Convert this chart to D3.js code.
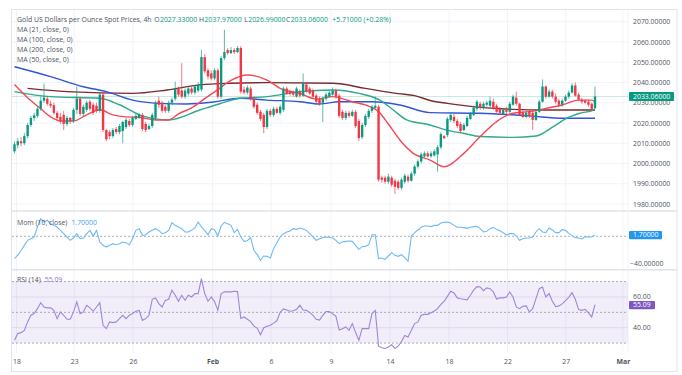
<!DOCTYPE html>
<html><head><meta charset="utf-8">
<script src="https://cdn.jsdelivr.net/npm/d3@7/dist/d3.min.js"></script>
<style>body{margin:0;background:#fff}svg{display:block;font-family:'Open Sans',sans-serif}</style>
</head><body><svg id="c" width="682" height="375"></svg>
<script>
// ---------------- DATA ----------------
const tickLabels = ["18","23","26","Feb","6","9","14","18","22","27","Mar"];
const tickBars   = [0.6,18.2,36.1,60.4,78.2,96.5,114.5,132.5,150.3,168.1,185.5];
const priceTicks = [1980,1990,2000,2010,2020,2030,2040,2050,2060,2070];

const open = [2006,2009,2011,2010,2013.5,2019,2022.5,2023.5,2027,2031,
2032,2029.5,2028.8,2025,2023,2024,2019.5,2022.5,2021,2026.5,
2032,2024.5,2026.5,2030.5,2029,2028.5,2026,2034,2016.5,2015.5,
2013.5,2017,2015.5,2016,2018,2021,2019,2022,2022.5,2024,
2019.5,2017,2018.5,2022.5,2031,2030,2028,2026,2030,2032,
2037,2036,2033,2034.5,2037,2035,2036,2036.5,2052.5,2046,
2044.5,2042,2046,2033,2052,2056,2054.5,2056,2055,2057,
2036.5,2035,2037,2032,2029,2025.5,2024,2018,2026,2024,
2027,2025,2026.5,2037,2035.5,2035,2033,2035.5,2033.5,2039,
2037,2036,2033.5,2032,2030,2032,2033,2034,2036,2033.5,
2025.5,2022.5,2025,2023.5,2025.5,2021,2013,2019,2023,2026,
2027.5,2028,1993,1993,1991,1993,1991.5,1991,1988,1991,
1993.5,1991.5,1995,1998.5,2001,2003.5,2005,2003.5,2004,2004.5,
2008,2013.5,2014,2021.5,2023,2021,2019.5,2016.5,2018.5,2022,
2024,2027,2029.5,2027.5,2029,2028.5,2030.5,2028.5,2027,2024.5,
2027,2025.5,2029,2032.5,2029.5,2025,2023,2025.5,2025,2021.5,
2025.5,2030.5,2038,2033,2035.5,2033,2031,2029,2031,2033,
2035,2038.5,2034,2031.5,2031,2030.5,2029.5,2027.33];
const high = [2011,2012.5,2013,2015,2020,2023.5,2025,2028,2033,2039.5,
2033,2031,2030,2026,2025,2026,2023.5,2023,2027.5,2038,
2033,2029,2031,2031.5,2030,2030,2034.8,2035,2017,2016.5,
2017.5,2018,2019.5,2021,2022.5,2022,2023.5,2024.5,2025,2025,
2020.5,2019.5,2025,2031,2033,2031,2029,2031,2032.5,2040.4,
2038,2049.5,2037,2038,2038,2039,2040,2056,2054,2047,
2046,2047,2047,2053,2066,2057,2057.5,2057,2058,2058,
2038,2038.5,2038,2033,2030,2026.5,2025,2027,2027,2028,
2028,2029,2038,2038,2036.5,2036,2038,2036.5,2044.5,2040,
2038,2037,2034.5,2033,2033,2035,2036,2037.5,2037,2034.5,
2026.5,2026,2026,2026.5,2026.5,2022,2020,2024.5,2027,2029,
2033,2029,1994,1994,1995,1994,1992.5,1992,1993,1995,
1994.5,1996,1999.5,2002,2005.5,2006,2006,2006,2007,2009,
2015.5,2014,2023,2025,2024.5,2022,2020.5,2020,2023.5,2025.5,
2028.5,2031.5,2030.5,2030.5,2031,2033,2032,2029.5,2028,2027.5,
2028,2030.5,2034,2035.5,2030,2026,2026,2026.5,2026,2026.5,
2031.5,2041.5,2038.5,2036.5,2036.5,2034.6,2032,2032,2034,2036,
2039.5,2040,2035,2032.5,2031.5,2031.5,2030,2037.97];
const low = [2005,2007.5,2008.5,2009,2012.5,2018,2021,2022.5,2026,2030,
2028.5,2027.5,2024,2021.5,2019.5,2016.5,2018.5,2019.5,2020,2024.5,
2023.5,2023,2025.5,2026,2024,2025,2025,2015.5,2011,2012,
2012.5,2014.5,2014.5,2010,2017,2018,2018,2021.5,2022,2016,
2015.5,2016.5,2017.5,2021.5,2027.5,2025,2025,2025,2029,2031,
2033,2032,2032,2033.5,2034,2034,2035,2035.5,2044.5,2041.5,
2041,2041,2032,2032,2051,2053.5,2054,2054,2054.5,2034.5,
2034,2034,2031,2027,2024,2021,2015,2017,2023,2023,
2024.5,2024,2025.5,2034,2033.5,2033,2032.5,2032.5,2033,2035,
2034,2032,2029.5,2028.5,2020.5,2031,2032.5,2033.5,2032,2022.5,
2021.5,2021.5,2022.5,2023,2017.5,2011,2012,2018,2022,2025,
2027,1991,1990.5,1990,1990,1988.5,1985,1987,1987,1990,
1990.5,1991,1994,1997.5,2000,2003,2003,2003,2003.5,1996,
2007,2012,2013,2020.5,2020,2017.5,2015,2016,2018,2021.5,
2023.5,2026,2026.5,2026.5,2028,2027.5,2026.5,2025,2024,2024,
2024.5,2025,2028.5,2028.5,2023.5,2022.5,2022.5,2022.5,2016.5,2021,
2025,2030,2032,2032.5,2032,2029.5,2028,2028,2030.5,2032,
2034.5,2033,2031,2029.5,2029.5,2028,2025.8,2026.99];
const close = [2009.5,2011,2010,2013.5,2019,2022.5,2023.8,2027,2031,2032.5,
2029.5,2028.5,2025,2022.5,2021,2019.5,2022.5,2021,2026.5,2032,
2024.5,2028,2030,2027,2025,2026,2034,2016.5,2012,2013.5,
2016.5,2015.5,2018.5,2020.5,2021.5,2019,2022.5,2023.5,2024,2017,
2016.5,2018.5,2024,2030,2029,2026,2026,2030,2031.5,2037,
2034,2033,2036,2037,2035,2038,2039,2052.5,2045.5,2043,
2042,2046,2033,2052,2055,2054.5,2056,2055,2057,2035.5,
2035,2037.5,2032,2028,2025,2022,2018,2026,2024,2027,
2025,2028,2037,2034.5,2034.5,2034,2037,2033.5,2039.5,2035.5,
2034.5,2033,2030.5,2029.5,2032,2034,2035,2036,2033,2023.5,
2022.5,2025,2023.5,2025.5,2018.5,2012.5,2019,2023.5,2026,2028,
2028.5,1992,1992,1991,1993.5,1989.5,1988.5,1988,1992,1994,
1991.5,1995,1998.5,2001,2004.5,2005,2003.5,2005,2006,2008,
2014.5,2012.5,2022,2024,2021,2018.5,2016,2019,2022.5,2024.5,
2027.5,2030.5,2027.5,2029.5,2030,2031,2027,2025.5,2025,2026.5,
2025.5,2029.5,2033,2029.5,2024,2023,2025,2023.5,2021.5,2025.5,
2030.5,2038,2033,2035.5,2033,2030.5,2029,2031,2033,2035,
2038.5,2033.5,2031.5,2030.5,2030,2029,2026.8,2033.06];

// moving averages: [bar, value]
const ma21 = [[0,2039],[4,2032.5],[8,2027],[11,2023],[14,2021],[18,2021],[22,2024],[26,2026.5],[30,2024],[34,2023],[38,2022.8],[43,2021.5],[47,2021.5],[50,2024.5],[54,2027.5],[58,2032],[62,2036.5],[66,2041],[71,2043.7],[77,2041.2],[81,2037.1],[87,2034.6],[92,2031.8],[97,2033],[103,2030.5],[107,2028.9],[111,2025.6],[114,2019.5],[117.5,2011.6],[121.6,2005],[126.7,2001.7],[131,1998.4],[137,2005],[142,2013.3],[147,2020.7],[152,2024.8],[157,2025.6],[162,2027.2],[167,2028.9],[172,2031.3],[176,2031.3],[177,2030.5]];
const ma50 = [[0,2035.5],[11,2033],[26,2032.2],[32,2029],[39,2023.5],[47,2021.5],[56.5,2026.4],[62.6,2029.5],[68.7,2032.2],[77,2033],[87,2035.5],[97,2036.3],[105,2034.6],[111.4,2031.3],[115.5,2026.4],[119.6,2021.5],[126.7,2019],[131.8,2016.5],[136.8,2014.9],[142,2013.3],[152,2012.9],[159,2013.6],[164.3,2018.2],[168.3,2022.3],[172.4,2024.8],[176.5,2026.4],[177,2027]];
const ma100 = [[0,2047.8],[11,2042.9],[21,2037.9],[28,2035.5],[36,2031.3],[44,2029.7],[52.5,2029.4],[60,2030.2],[68.7,2032.2],[76.9,2031.3],[87,2030.5],[93,2029.4],[99,2030.5],[109,2030.5],[117.5,2028.9],[126.7,2025.1],[142,2024.8],[157,2023.5],[167.3,2022.3],[177,2022.3]];
const ma200 = [[4,2037.1],[16,2035.5],[36,2034.6],[46.5,2036.3],[56.5,2038.8],[65.7,2039.6],[77,2039.9],[97,2039.6],[107,2037.1],[111,2036],[117,2034.5],[122,2033.5],[127,2031],[132,2029.7],[142,2027.7],[152,2026.7],[162,2026.4],[177,2026.4]];

const mom = [-33,-28,-21,-13.4,-6,-3.5,-1,13.8,26,21,
23.7,18.7,16.2,13.8,8.8,3.9,-1,-6,-2.5,3.9,
-3.5,-2.5,3.9,8.8,0.4,8.8,-8.4,-13.4,-15.9,-13.4,
-10.9,-12.4,-10.9,-8.4,-9.4,-12.4,-3.5,8.8,11.3,1.5,
2.4,6.4,8.8,11.3,8.8,3.9,5.4,8.8,20.2,16.2,
13.8,11.3,6.4,6.4,8.8,12.3,21.2,13.8,8.8,2.4,
11.3,9.8,0.4,15.3,20.7,18.7,16.2,5.4,10.3,-1,
-7.5,-6.5,-2,-20.8,-27.2,-35.6,-29.2,-29.7,-32.1,-18.3,
-9.4,-1,3.9,6.4,7.9,11.3,10.3,12.3,10.8,8.8,
3.9,-1,-6,-3.5,-2,-1,-1.5,-2.5,-6,-10.9,
-8.4,-7.5,-7,-7.5,-13.4,-19.3,-15.4,-14.9,-12.4,2.4,
2.4,-33.1,-32.1,-34.1,-29.2,-24.2,-28.2,-29.7,-27.2,-31.7,
-37.1,0.4,5.4,9.3,13.3,15.3,15.3,14.3,16.2,16.2,
19.7,20.7,21.2,19.7,16.2,13.3,13.3,12.8,11.8,13.3,
14.3,14.8,11.3,6.4,7.4,11.3,13.3,10.3,8.3,5.4,
1.9,3.9,3.9,0.4,-6,-3.5,-2.5,-2.5,-1,6.4,
11.3,6.4,5.4,12.3,9.3,5.4,5.4,9.8,8.8,4.4,
1,-2,-2.5,-4,-0.5,-1,-1,1.7];
const rsi = [31.8,36.2,36.8,38.3,43.8,48.1,49.2,52.4,56.3,53.5,
52.9,53,51.3,45.9,50.3,48.1,45.5,45.5,50.3,56.8,
49.2,50.3,54.6,52.9,50.7,53.5,56.3,41.6,39.4,43.8,
43.3,43.8,45.9,48.1,45.9,48.1,49.2,50.7,51.3,44.8,
45.9,48.1,58.5,59.4,55.7,53.5,57.8,58.5,64.4,61.1,
57.2,61.1,57.8,61.1,60,62.2,62.2,71.9,62.2,57.2,
60,57,51.3,62,63.3,63.3,63.3,63.7,63.5,46,
47,45.5,44,41,39.8,35.5,40,41,41.6,43,
44.5,50,52.2,51.5,50.7,51,52,54.6,51.5,51.3,
50,48.1,45.5,45,48,50.5,50.5,49,47.5,38.5,
39.4,40.5,38.3,42.7,37,31.8,39.4,39.4,39.4,49.2,
51.3,28,27,26.5,27.5,29,26.5,28,31,35,
34,38.3,42.7,43.8,48.1,48.7,48.7,49.8,50.9,52.4,
55.2,57.2,60.4,63.7,62.6,59.4,58.9,58.5,58.1,61.1,
64.4,66.7,66.5,64.1,65.9,65.4,63.3,58.7,59.4,59.4,
60,63.3,60,53.5,52.4,54,54.2,50.3,52.4,58.9,
65.4,66.5,60,62.2,57.2,53.7,54.2,55.5,57.6,59.8,
62.8,58.5,51.8,51.3,52,49.6,47,55.09];

const titleText = "Gold US Dollars per Ounce Spot Prices, 4h";
const ohlcLabels = ["O","H","L","C"];
const ohlcValues = ["2027.33000","2037.97000","2026.99000","2033.06000"];
const changeText = "+5.71000 (+0.28%)";
const maLegend = ["MA (21, close, 0)","MA (100, close, 0)","MA (200, close, 0)","MA (50, close, 0)"];
const lastPrice = 2033.06, lastMom = 1.70, lastRsi = 55.09;

// ---------------- LAYOUT ----------------
const svg = d3.select('#c');
const PL = 12, PR = 628;
const green = '#089981', red = '#f23645';
const x = d3.scaleLinear().domain([0,177]).range([14.5,595]);
const yP = d3.scaleLinear().domain([1980,2070]).range([204,21.7]);
const yM = d3.scaleLinear().domain([-40,0]).range([263.3,236.3]);
const yR = d3.scaleLinear().domain([30,70]).range([343.1,281.6]);
const panels = {main:[10,210], mom:[212,268.5], rsi:[271,353]};

const defs = svg.append('defs');
Object.entries(panels).forEach(([k,[a,b]])=>{
  defs.append('clipPath').attr('id','clip-'+k).append('rect')
    .attr('x',PL).attr('y',a).attr('width',PR-PL).attr('height',b-a);
});

// frame
svg.append('rect').attr('x',11.5).attr('y',9.5).attr('width',665.5).attr('height',362)
  .attr('fill','#fff').attr('stroke','#e0e3eb');

// vertical grid
svg.append('g').selectAll('line').data(tickBars).join('line')
  .attr('x1',d=>x(d)).attr('x2',d=>x(d)).attr('y1',10).attr('y2',353)
  .attr('stroke','#f0f3fa').attr('stroke-width',1);
// horizontal grid main
svg.append('g').selectAll('line').data(priceTicks).join('line')
  .attr('x1',PL).attr('x2',PR).attr('y1',d=>yP(d)).attr('y2',d=>yP(d))
  .attr('stroke','#f0f3fa');
// rsi grid
svg.append('g').selectAll('line').data([40,60]).join('line')
  .attr('x1',PL).attr('x2',PR).attr('y1',d=>yR(d)).attr('y2',d=>yR(d)).attr('stroke','#ebe6f5');

// panel separators
[211, 269.8].forEach(y=>svg.append('line').attr('x1',11.5).attr('x2',677).attr('y1',y).attr('y2',y)
  .attr('stroke','#e0e3eb').attr('stroke-width',1.6));
svg.append('line').attr('x1',PR).attr('x2',PR).attr('y1',10).attr('y2',353).attr('stroke','#f0f3fa');

// ---------------- MAIN PANEL ----------------
const gMain = svg.append('g').attr('clip-path','url(#clip-main)');
gMain.append('line').attr('x1',PL).attr('x2',PR).attr('y1',yP(lastPrice)).attr('y2',yP(lastPrice))
  .attr('stroke',green).attr('stroke-opacity',0.22).attr('stroke-width',1);

const idx = d3.range(close.length);
const maLine = d3.line().x(d=>x(d[0])).y(d=>yP(d[1])).curve(d3.curveMonotoneX);
[[ma200,'#7b2b2f'],[ma100,'#3154d6'],[ma50,'#2eaa8c'],[ma21,'#f24a55']].forEach(([d,c])=>{
  gMain.append('path').attr('d',maLine(d)).attr('fill','none').attr('stroke',c).attr('stroke-width',1.4);
});

const cg = gMain.append('g');
cg.selectAll('line').data(idx).join('line')
  .attr('x1',i=>x(i)).attr('x2',i=>x(i)).attr('y1',i=>yP(high[i])).attr('y2',i=>yP(low[i]))
  .attr('stroke',i=>close[i]>=open[i]?green:red).attr('stroke-width',0.9).attr('stroke-opacity',0.75);
cg.selectAll('rect').data(idx).join('rect')
  .attr('x',i=>x(i)-1.2).attr('width',2.4)
  .attr('y',i=>yP(Math.max(open[i],close[i])))
  .attr('height',i=>Math.max(0.8,Math.abs(yP(open[i])-yP(close[i]))))
  .attr('fill',i=>close[i]>=open[i]?green:red);

// ---------------- MOMENTUM ----------------
const gMom = svg.append('g').attr('clip-path','url(#clip-mom)');
gMom.append('line').attr('x1',PL).attr('x2',PR).attr('y1',yM(0)).attr('y2',yM(0))
  .attr('stroke','#9598a1').attr('stroke-dasharray','2,2').attr('stroke-width',0.8);
gMom.append('path').datum(mom)
  .attr('d',d3.line().x((d,i)=>x(i)).y(d=>yM(d)))
  .attr('fill','none').attr('stroke','#6cbaf6').attr('stroke-width',1.1);

// ---------------- RSI ----------------
const gR = svg.append('g').attr('clip-path','url(#clip-rsi)');
gR.append('rect').attr('x',PL).attr('width',PR-PL).attr('y',yR(70)).attr('height',yR(30)-yR(70))
  .attr('fill','#7e57c2').attr('fill-opacity',0.1);
[70,50,30].forEach(v=>gR.append('line').attr('x1',PL).attr('x2',PR).attr('y1',yR(v)).attr('y2',yR(v))
  .attr('stroke','#9598a1').attr('stroke-dasharray','2,2').attr('stroke-width',0.8));
gR.append('path').datum(rsi)
  .attr('d',d3.line().x((d,i)=>x(i)).y(d=>yR(d)))
  .attr('fill','none').attr('stroke','#a085da').attr('stroke-width',1.1);

// ---------------- AXES ----------------
const fs = 6.9, txt = '#50535e';
const axP = d3.axisRight(yP).tickValues(priceTicks).tickFormat(d=>d3.format('.5f')(d)).tickSize(0).tickPadding(0);
const gax = svg.append('g').attr('transform','translate(633,0)').call(axP);
gax.select('.domain').remove();
gax.selectAll('text').attr('font-size',fs).attr('fill',txt).attr('font-family','Open Sans');

const axM = d3.axisRight(yM).tickValues([-40]).tickFormat(d=>d3.format('.5f')(d).replace('-','\u2212')).tickSize(0).tickPadding(0);
const gam = svg.append('g').attr('transform','translate(630,0)').call(axM);
gam.select('.domain').remove();
gam.selectAll('text').attr('font-size',fs).attr('fill',txt).attr('font-family','Open Sans');

const axR = d3.axisRight(yR).tickValues([40,60]).tickFormat(d3.format('.2f')).tickSize(0).tickPadding(0);
const gar = svg.append('g').attr('transform','translate(633,0)').call(axR);
gar.select('.domain').remove();
gar.selectAll('text').attr('font-size',fs).attr('fill',txt).attr('font-family','Open Sans').attr('dy','0.2em');

const axX = d3.axisBottom(x).tickValues(tickBars).tickFormat((d,i)=>tickLabels[i]).tickSize(0).tickPadding(0);
const gxx = svg.append('g').attr('transform','translate(0,359)').call(axX);
gxx.select('.domain').remove();
gxx.selectAll('text').attr('font-size',fs).attr('fill',txt).attr('font-family','Open Sans')
  .attr('font-weight',(d,i)=>isNaN(+tickLabels[i])?700:400);

// value tags
function tag(y,w,h,fill,label){
  svg.append('rect').attr('x',629).attr('y',y-h/2).attr('width',w).attr('height',h).attr('rx',1).attr('fill',fill);
  svg.append('text').attr('x',633).attr('y',y).attr('dy','0.34em').attr('font-size',fs)
    .attr('fill','#fff').text(label);
}
tag(yP(lastPrice),45,9.2,green,d3.format('.5f')(lastPrice));
tag(yM(lastMom),33,8.4,'#2196f3',d3.format('.5f')(lastMom));
tag(yR(lastRsi)+0.6,26,8.4,'#7e57c2',d3.format('.2f')(lastRsi));

// ---------------- LEGENDS ----------------
const lg = svg.append('g').attr('font-size',fs).attr('fill',txt);
lg.append('text').attr('x',17).attr('y',21.5).text(titleText);
const ohlcX = [154.3,199,244.3,286];
ohlcLabels.forEach((l,i)=>{
  const t = lg.append('text').attr('x',ohlcX[i]).attr('y',21.5);
  t.append('tspan').text(l);
  t.append('tspan').attr('fill',green).attr('dx',0.3).text(ohlcValues[i]);
});
lg.append('text').attr('x',332.3).attr('y',21.5).attr('fill',green).text(changeText);
maLegend.forEach((m,i)=>lg.append('text').attr('x',17).attr('y',32.2+i*10).text(m));

const ml = lg.append('text').attr('x',17).attr('y',225.2);
ml.append('tspan').text('Mom (10, close)');
ml.append('tspan').attr('fill','#42a5f5').attr('dx',4).text(d3.format('.5f')(lastMom));
const rl = lg.append('text').attr('x',17).attr('y',282.2);
rl.append('tspan').text('RSI (14)');
rl.append('tspan').attr('fill','#9575cd').attr('dx',4).text(d3.format('.2f')(lastRsi));
</script></body></html>
